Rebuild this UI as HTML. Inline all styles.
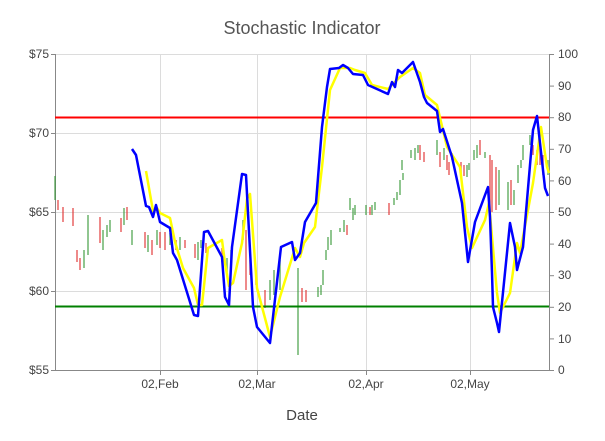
<!DOCTYPE html>
<html><head><meta charset="utf-8"><style>body{margin:0;background:#fff}svg{display:block;font-family:"Liberation Sans",sans-serif}</style></head><body>
<svg width="605" height="441" viewBox="0 0 605 441">
<text x="302" y="34" text-anchor="middle" font-size="18" fill="#555">Stochastic Indicator</text>
<g stroke="#dcdcdc" stroke-width="1">
<line x1="55" y1="54.5" x2="549" y2="54.5"/><line x1="55" y1="133.5" x2="549" y2="133.5"/><line x1="55" y1="212.5" x2="549" y2="212.5"/><line x1="55" y1="291.5" x2="549" y2="291.5"/>
<line x1="160.5" y1="54" x2="160.5" y2="370"/><line x1="257.5" y1="54" x2="257.5" y2="370"/><line x1="366.5" y1="54" x2="366.5" y2="370"/><line x1="470.5" y1="54" x2="470.5" y2="370"/>
</g>
<g stroke="#888" stroke-width="1">
<line x1="55.5" y1="54" x2="55.5" y2="370"/><line x1="549.5" y1="54" x2="549.5" y2="370"/><line x1="55" y1="370.5" x2="549" y2="370.5"/>
<line x1="51" y1="54.5" x2="55" y2="54.5"/><line x1="51" y1="133.5" x2="55" y2="133.5"/><line x1="51" y1="212.5" x2="55" y2="212.5"/><line x1="51" y1="291.5" x2="55" y2="291.5"/><line x1="51" y1="370.5" x2="55" y2="370.5"/>
<line x1="160.5" y1="370" x2="160.5" y2="375"/><line x1="257.5" y1="370" x2="257.5" y2="375"/><line x1="366.5" y1="370" x2="366.5" y2="375"/><line x1="470.5" y1="370" x2="470.5" y2="375"/>
</g>
<g stroke="#888"><line x1="549" y1="54.5" x2="554" y2="54.5"/><line x1="549" y1="86.1" x2="554" y2="86.1"/><line x1="549" y1="117.7" x2="554" y2="117.7"/><line x1="549" y1="149.3" x2="554" y2="149.3"/><line x1="549" y1="180.9" x2="554" y2="180.9"/><line x1="549" y1="212.5" x2="554" y2="212.5"/><line x1="549" y1="244.1" x2="554" y2="244.1"/><line x1="549" y1="275.7" x2="554" y2="275.7"/><line x1="549" y1="307.3" x2="554" y2="307.3"/><line x1="549" y1="338.9" x2="554" y2="338.9"/><line x1="549" y1="370.5" x2="554" y2="370.5"/></g>
<g font-size="12" fill="#444" text-anchor="end">
<text x="49" y="58">$75</text><text x="49" y="137">$70</text><text x="49" y="216">$65</text><text x="49" y="295">$60</text><text x="49" y="374">$55</text></g>
<g font-size="12" fill="#444" text-anchor="start">
<text x="558" y="58">100</text><text x="558" y="90">90</text><text x="558" y="121">80</text><text x="558" y="153">70</text><text x="558" y="185">60</text><text x="558" y="216">50</text><text x="558" y="248">40</text><text x="558" y="279">30</text><text x="558" y="311">20</text><text x="558" y="343">10</text><text x="558" y="374">0</text></g>
<g font-size="12" fill="#444" text-anchor="middle">
<text x="160" y="388">02,Feb</text><text x="257" y="388">02,Mar</text><text x="366" y="388">02,Apr</text><text x="470" y="388">02,May</text></g>
<text x="302" y="420" text-anchor="middle" font-size="15" fill="#444">Date</text>
<g stroke-width="1.5" opacity="0.75">
<g stroke="#e03030">
<line x1="58" y1="200" x2="58" y2="210"/><line x1="63" y1="207" x2="63" y2="222"/><line x1="73" y1="208" x2="73" y2="226"/><line x1="77" y1="250" x2="77" y2="262"/><line x1="80" y1="258" x2="80" y2="270"/><line x1="100" y1="217" x2="100" y2="243"/><line x1="121" y1="218" x2="121" y2="232"/><line x1="127" y1="207" x2="127" y2="220"/><line x1="145" y1="232" x2="145" y2="248"/><line x1="152" y1="240" x2="152" y2="255"/><line x1="160" y1="232" x2="160" y2="248"/><line x1="165" y1="232" x2="165" y2="250"/><line x1="176" y1="240" x2="176" y2="250"/><line x1="185" y1="240" x2="185" y2="248"/><line x1="195" y1="244" x2="195" y2="258"/><line x1="206" y1="243" x2="206" y2="253"/><line x1="222" y1="248" x2="222" y2="262"/><line x1="246" y1="230" x2="246" y2="290"/><line x1="250" y1="260" x2="250" y2="275"/><line x1="256" y1="270" x2="256" y2="285"/><line x1="265" y1="290" x2="265" y2="308"/><line x1="302" y1="288" x2="302" y2="302"/><line x1="306" y1="290" x2="306" y2="302"/><line x1="347" y1="225" x2="347" y2="235"/><line x1="370" y1="207" x2="370" y2="215"/><line x1="389" y1="203" x2="389" y2="215"/><line x1="420" y1="145" x2="420" y2="160"/><line x1="424" y1="152" x2="424" y2="162"/><line x1="440" y1="152" x2="440" y2="167"/><line x1="447" y1="155" x2="447" y2="170"/><line x1="449" y1="162" x2="449" y2="175"/><line x1="461" y1="162" x2="461" y2="178"/><line x1="464" y1="165" x2="464" y2="176"/><line x1="480" y1="140" x2="480" y2="155"/><line x1="490" y1="155" x2="490" y2="212"/><line x1="492" y1="160" x2="492" y2="212"/><line x1="496" y1="167" x2="496" y2="210"/><line x1="511" y1="180" x2="511" y2="205"/><line x1="533" y1="145" x2="533" y2="155"/><line x1="537" y1="150" x2="537" y2="165"/><line x1="540" y1="148" x2="540" y2="165"/><line x1="543" y1="155" x2="543" y2="175"/>
</g>
<g stroke="#3a9a3a">
<line x1="55" y1="176" x2="55" y2="200"/><line x1="84" y1="250" x2="84" y2="268"/><line x1="88" y1="215" x2="88" y2="255"/><line x1="103" y1="230" x2="103" y2="250"/><line x1="107" y1="225" x2="107" y2="237"/><line x1="110" y1="220" x2="110" y2="232"/><line x1="124" y1="208" x2="124" y2="225"/><line x1="132" y1="230" x2="132" y2="245"/><line x1="148" y1="235" x2="148" y2="252"/><line x1="157" y1="230" x2="157" y2="245"/><line x1="170" y1="233" x2="170" y2="245"/><line x1="180" y1="237" x2="180" y2="250"/><line x1="198" y1="242" x2="198" y2="260"/><line x1="201" y1="240" x2="201" y2="248"/><line x1="227" y1="258" x2="227" y2="272"/><line x1="231" y1="250" x2="231" y2="263"/><line x1="243" y1="220" x2="243" y2="240"/><line x1="270" y1="280" x2="270" y2="300"/><line x1="274" y1="270" x2="274" y2="295"/><line x1="280" y1="260" x2="280" y2="290"/><line x1="298" y1="268" x2="298" y2="355"/><line x1="318" y1="287" x2="318" y2="297"/><line x1="321" y1="285" x2="321" y2="295"/><line x1="323" y1="270" x2="323" y2="285"/><line x1="326" y1="250" x2="326" y2="260"/><line x1="328" y1="237" x2="328" y2="250"/><line x1="331" y1="230" x2="331" y2="245"/><line x1="340" y1="228" x2="340" y2="232"/><line x1="344" y1="220" x2="344" y2="232"/><line x1="350" y1="198" x2="350" y2="210"/><line x1="353" y1="208" x2="353" y2="220"/><line x1="355" y1="205" x2="355" y2="215"/><line x1="366" y1="205" x2="366" y2="215"/><line x1="372" y1="205" x2="372" y2="215"/><line x1="375" y1="202" x2="375" y2="210"/><line x1="394" y1="198" x2="394" y2="205"/><line x1="397" y1="192" x2="397" y2="200"/><line x1="400" y1="180" x2="400" y2="195"/><line x1="403" y1="173" x2="403" y2="180"/><line x1="402" y1="160" x2="402" y2="170"/><line x1="411" y1="150" x2="411" y2="158"/><line x1="415" y1="148" x2="415" y2="160"/><line x1="418" y1="145" x2="418" y2="153"/><line x1="437" y1="140" x2="437" y2="155"/><line x1="444" y1="148" x2="444" y2="160"/><line x1="452" y1="153" x2="452" y2="160"/><line x1="467" y1="165" x2="467" y2="177"/><line x1="469" y1="163" x2="469" y2="170"/><line x1="474" y1="150" x2="474" y2="160"/><line x1="477" y1="145" x2="477" y2="158"/><line x1="485" y1="152" x2="485" y2="158"/><line x1="499" y1="170" x2="499" y2="205"/><line x1="508" y1="182" x2="508" y2="210"/><line x1="514" y1="190" x2="514" y2="205"/><line x1="518" y1="165" x2="518" y2="183"/><line x1="521" y1="160" x2="521" y2="168"/><line x1="523" y1="145" x2="523" y2="160"/><line x1="530" y1="135" x2="530" y2="145"/><line x1="548" y1="160" x2="548" y2="175"/>
</g></g>
<line x1="55" y1="117.5" x2="549" y2="117.5" stroke="#f00" stroke-width="2"/>
<line x1="55" y1="306.5" x2="549" y2="306.5" stroke="#008000" stroke-width="2"/>
<polyline fill="none" stroke="#ffff00" stroke-width="2.5" stroke-linejoin="round" points="146,171 153,211 157,208 160,213 170,218 175,242 183,268 194,288 198,305 202,305 208,248 222,240 225,263 229,286 233,283 242,243 247,199 250,194 257,288 270,337 280,297 295,248 300,257 304,243 315,227 322,167 330,90 340,68 350,68 355,70 365,73 372,85 388,89 400,77 413,68 420,73 425,95 437,105 447,147 460,167 467,227 472,248 485,220 489,203 497,293 500,313 510,293 517,243 520,253 533,183 541,127 547,167 549,173"/>
<polyline fill="none" stroke="#0000ff" stroke-width="2.5" stroke-linejoin="round" points="132,149 136,155 146,206 149,207 153,217 156,205 160,222 170,228 173,253 177,260 194,315 198,316 204,232 208,231 222,257 225,297 229,305 232,247 242,174 246,175 253,307 257,327 270,343 281,247 292,242 295,260 300,253 305,222 316,203 322,127 327,87 330,69 339,68 343,65 348,68 353,74 363,75 368,85 388,94 392,82 395,87 398,70 402,73 413,62 420,82 424,97 427,103 437,111 440,132 443,129 452,157 462,203 468,262 475,222 488,187 490,217 492,273 493,307 497,323 499,332 510,223 515,247 517,270 523,247 533,130 537,116 540,143 545,188 548,196"/>
</svg></body></html>
